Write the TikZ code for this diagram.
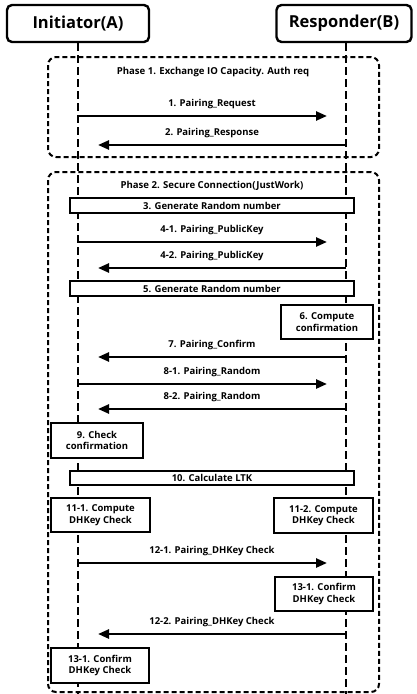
\documentclass[tikz,border=0pt]{standalone}
\usepackage{fontspec}
\setmainfont{Open Sans}
\usetikzlibrary{arrows.meta}

\begin{document}
\begin{tikzpicture}[x=1pt,y=-1pt,
    actor/.style={draw,line width=2.4pt,rounded corners=5pt,fill=white,
      minimum height=37pt,font=\fontsize{16.5}{18}\selectfont\bfseries},
    life/.style={line width=2.8pt,dash pattern=on 8pt off 4pt},
    phase/.style={line width=2pt,dash pattern=on 5pt off 3pt,rounded corners=8pt},
    proc/.style={draw,line width=1.8pt,fill=white,inner sep=0pt,align=center,
      font=\fontsize{9.5}{11.5}\selectfont\bfseries},
    lbl/.style={midway,yshift=12pt,font=\fontsize{9.5}{11}\selectfont\bfseries},
    title/.style={font=\fontsize{9.6}{11}\selectfont\bfseries},
    msgR/.style={line width=2.4pt,-{Triangle[length=11pt,width=9pt]},shorten >=19pt},
    msgL/.style={line width=2.4pt,-{Triangle[length=11pt,width=9pt]},shorten >=20pt}]
  \useasboundingbox (0,0) rectangle (416,694);

  % phases
  \draw[phase] (48,57) rectangle (379,157);
  \draw[phase] (48,172) rectangle (379,692);
  \node[title] (ph1) at (213,72) {Phase 1. Exchange IO Capacity. Auth req};
  \node[title] (ph2) at (212,186) {Phase 2. Secure Connection(JustWork)};

  % actors and lifelines
  \node[actor,minimum width=142pt] (init) at (78,23.5) {Initiator(A)};
  \node[actor,minimum width=135pt] (resp) at (344,23.5) {Responder(B)};
  \coordinate (aend) at (78,694);
  \coordinate (bend) at (346,694);
  \draw[life] (init.south) -- (aend);
  \draw[life] (init.south -| bend) -- (bend);

  % messages
  \coordinate (a1) at (78,116); \coordinate (b1) at (346,116);
  \draw[msgR] (a1) -- node[lbl]{1. Pairing\_Request} (b1);
  \coordinate (a2) at (78,145); \coordinate (b2) at (346,145);
  \draw[msgL] (b2) -- node[lbl]{2. Pairing\_Response} (a2);
  \coordinate (a3) at (78,242); \coordinate (b3) at (346,242);
  \draw[msgR] (a3) -- node[lbl]{4-1. Pairing\_PublicKey} (b3);
  \coordinate (a4) at (78,268); \coordinate (b4) at (346,268);
  \draw[msgL] (b4) -- node[lbl]{4-2. Pairing\_PublicKey} (a4);
  \coordinate (a5) at (78,357); \coordinate (b5) at (346,357);
  \draw[msgL] (b5) -- node[lbl]{7. Pairing\_Confirm} (a5);
  \coordinate (a6) at (78,384); \coordinate (b6) at (346,384);
  \draw[msgR] (a6) -- node[lbl]{8-1. Pairing\_Random} (b6);
  \coordinate (a7) at (78,409); \coordinate (b7) at (346,409);
  \draw[msgL] (b7) -- node[lbl]{8-2. Pairing\_Random} (a7);
  \coordinate (a8) at (78,563); \coordinate (b8) at (346,563);
  \draw[msgR] (a8) -- node[lbl]{12-1. Pairing\_DHKey Check} (b8);
  \coordinate (a9) at (78,634); \coordinate (b9) at (346,634);
  \draw[msgL] (b9) -- node[lbl]{12-2. Pairing\_DHKey Check} (a9);

  % process boxes
  \node[proc,minimum width=284pt,minimum height=15pt] (gen3) at (212,205.5) {3. Generate Random number};
  \node[proc,minimum width=284pt,minimum height=15pt] (gen5) at (212,288.5) {5. Generate Random number};
  \node[proc,minimum width=92pt,minimum height=34pt] (comp6) at (327,322) {6. Compute\\confirmation};
  \node[proc,minimum width=92pt,minimum height=35pt] (check9) at (97,440.5) {9. Check\\confirmation};
  \node[proc,minimum width=284pt,minimum height=14pt] (ltk10) at (212,478) {10. Calculate LTK};
  \node[proc,minimum width=99pt,minimum height=34pt] (dhA) at (100.5,515) {11-1. Compute\\DHKey Check};
  \node[proc,minimum width=99pt,minimum height=35pt] (dhB) at (323.5,515.5) {11-2. Compute\\DHKey Check};
  \node[proc,minimum width=98pt,minimum height=34pt] (confB) at (324,594) {13-1. Confirm\\DHKey Check};
  \node[proc,minimum width=98pt,minimum height=35pt] (confA) at (100,665.5) {13-1. Confirm\\DHKey Check};
\end{tikzpicture}
\end{document}
